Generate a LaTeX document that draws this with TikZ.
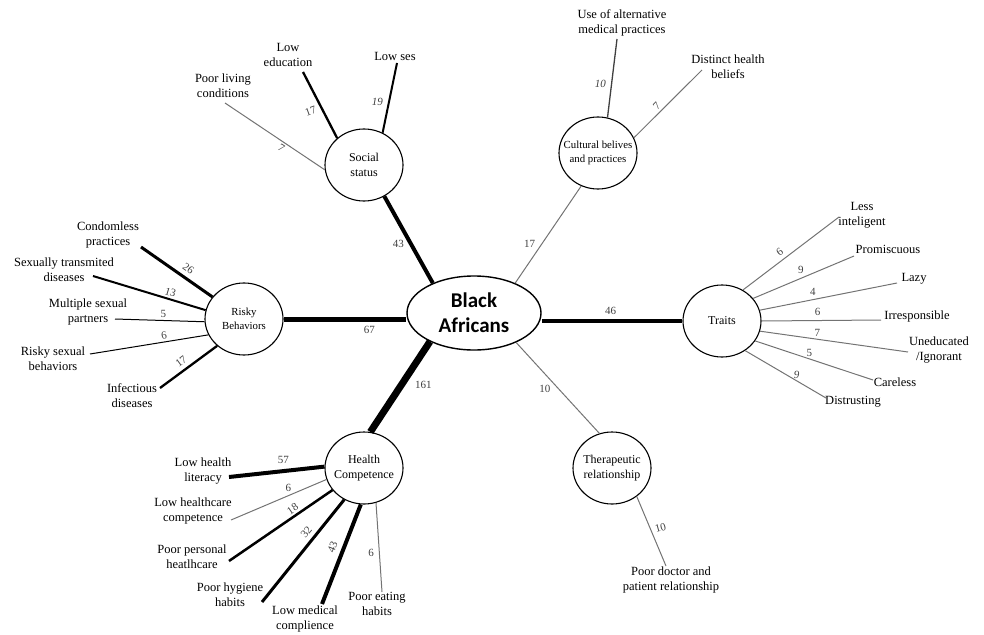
\documentclass[tikz,border=0pt]{standalone}
\usepackage{fontspec}
\setmainfont{Liberation Serif}
\newfontfamily\carlito{Carlito}
\usetikzlibrary{shapes.geometric}
\begin{document}
\begin{tikzpicture}[x=1pt,y=-1pt,
  ba/.style={draw, ellipse, minimum width=134pt, minimum height=74pt, inner sep=0pt, line width=1.4pt, align=center, font=\carlito\bfseries\fontsize{21}{25}\selectfont},
  circ/.style={draw, ellipse, minimum width=78pt, minimum height=72pt, inner sep=-15pt, line width=1.1pt, align=center, font=\fontsize{12}{15}\selectfont},
  circs/.style={circ, font=\fontsize{10.8}{14}\selectfont},
  txt/.style={align=center, inner sep=0pt, font=\fontsize{12.5}{15}\selectfont},
  num/.style={font=\fontsize{11}{12}\selectfont, text=black!75, inner sep=2pt},
  gl/.style={line width=1pt, draw=black!55},
  bl/.style={line width=#1pt, draw=black},
]
\useasboundingbox (0,0) rectangle (984,634);

% central and category nodes
\node[ba] (ba) at (474,313) {Black\\Africans};
\node[circ] (soc) at (364,165) {Social\\status};
\node[circs] (cult) at (598,153) {Cultural belives\\and practices};
\node[circs] (risk) at (244,319) {Risky\\Behaviors};
\node[circ] (trait) at (722,321) {Traits};
\node[circ] (health) at (364,468) {Health\\Competence};
\node[circ] (ther) at (612,468) {Therapeutic\\relationship};

% outer texts
\node[txt] (t1) at (223,86) {Poor living\\conditions};
\node[txt] (t2) at (288,55) {Low\\education};
\node[txt] (t3) at (395,56) {Low ses};
\node[txt] (t4) at (622,23) {Use of alternative\\medical practices};
\node[txt] (t5) at (728,67) {Distinct health\\beliefs};
\node[txt] (t6) at (108,235) {Condomless\\practices};
\node[txt] (t7) at (64,270) {Sexually transmited\\diseases};
\node[txt] (t8) at (88,312) {Multiple sexual\\partners};
\node[txt] (t9) at (53,359) {Risky sexual\\behaviors};
\node[txt] (t10) at (132,396) {Infectious\\diseases};
\node[txt] (t11) at (862,215) {Less\\inteligent};
\node[txt] (t12) at (888,249) {Promiscuous};
\node[txt] (t13) at (914,279) {Lazy};
\node[txt] (t14) at (917,316) {Irresponsible};
\node[txt] (t15) at (939,350) {Uneducated\\/Ignorant};
\node[txt] (t16) at (895,382) {Careless};
\node[txt] (t17) at (853,402) {Distrusting};
\node[txt] (t18) at (203,471) {Low health\\literacy};
\node[txt] (t19) at (193,511) {Low healthcare\\competence};
\node[txt] (t20) at (192,557) {Poor personal\\heatlhcare};
\node[txt] (t21) at (230,595) {Poor hygiene\\habits};
\node[txt] (t22) at (305,619) {Low medical\\complience};
\node[txt] (t23) at (377,604) {Poor eating\\habits};
\node[txt] (t24) at (671,580) {Poor doctor and\\patient relationship};

% outer line ends
\coordinate (e1) at (225,103);
\coordinate (e2) at (303,72);
\coordinate (e3) at (397,63);
\coordinate (e4) at (617,39);
\coordinate (e5) at (702,70);
\coordinate (e6) at (141,247);
\coordinate (e7) at (93,276);
\coordinate (e8) at (115,319);
\coordinate (e9) at (90,354);
\coordinate (e10) at (160,388);
\coordinate (e11) at (839,217);
\coordinate (e12) at (854,256);
\coordinate (e13) at (897,283);
\coordinate (e14) at (881,320);
\coordinate (e15) at (908,352);
\coordinate (e16) at (873,380);
\coordinate (e17) at (826,398);
\coordinate (e18) at (229,477);
\coordinate (e19) at (231,520);
\coordinate (e20) at (229,561);
\coordinate (e21) at (262,602);
\coordinate (e22) at (322,604);
\coordinate (e23) at (382,592);
\coordinate (e24) at (666,566);

% central connectors
\draw[bl=4] (soc.-57) -- (ba.144) node[num,pos=0.545,left=3pt]{43};
\draw[gl] (cult.-117) -- (ba.36) node[num,pos=0.66,above left]{17};
\draw[bl=5] (risk.east) -- (risk.east -| ba.west) node[num,pos=0.7,below=3pt]{67};
\draw[bl=4] (trait.west) -- (trait.west -| ba.east) node[num,pos=0.51,above=2pt]{46};
\draw[bl=7] (health.80) -- (ba.213) node[num,pos=0.525,right=8pt]{161};
\draw[gl] (ther.110) -- (ba.-35) node[num,pos=0.56,below left]{10};

% social status
\draw[gl] (soc.187) -- (e1) node[num,pos=0.4,sloped,below]{7};
\draw[bl=2.3] (soc.135) -- (e2) node[num,pos=0.45,left=3pt,rotate=20]{17};
\draw[bl=2] (soc.60.6) -- (e3) node[num,pos=0.44,left=3pt]{\itshape 19};

% cultural
\draw[line width=1.3pt, draw=black!75] (cult.75.6) -- (e4) node[num,pos=0.425,left=3pt]{\itshape 10};
\draw[gl] (cult.23.4) -- (e5) node[num,pos=0.4,sloped,above]{7};

% risky behaviours
\draw[bl=3] (risk.145.5) -- (e6) node[num,pos=0.41,sloped,above=2pt]{26};
\draw[bl=2] (risk.167) -- (e7) node[num,pos=0.33,sloped,above]{13};
\draw[line width=1pt] (risk.184.3) -- (e8) node[num,pos=0.46,above]{5};
\draw[line width=1pt] (risk.204.7) -- (e9) node[num,pos=0.366,sloped,above]{6};
\draw[bl=2.3] (risk.225) -- (e10) node[num,pos=0.54,sloped,above=2pt]{17};

% traits
\draw[gl] (trait.56.7) -- (e11) node[num,pos=0.433,sloped,above=2pt]{6};
\draw[gl] (trait.36.9) -- (e12) node[num,pos=0.474,above=2pt]{9};
\draw[gl] (trait.16.1) -- (e13) node[num,pos=0.387,above=2pt]{4};
\draw[gl] (trait.0) -- (e14) node[num,pos=0.47,above=2pt]{6};
\draw[gl] (trait.-15.8) -- (e15) node[num,pos=0.388,above]{7};
\draw[gl] (trait.-31) -- (e16) node[num,pos=0.46,above]{5};
\draw[gl] (trait.-52.3) -- (e17) node[num,pos=0.636,above]{\itshape 9};

% health competence
\draw[bl=4] (health.178.6) -- (e18) node[num,pos=0.43,above=3pt]{57};
\draw[gl] (health.197.1) -- (e19) node[num,pos=0.4,above=2pt]{6};
\draw[bl=2.5] (health.215.7) -- (e20) node[num,pos=0.347,sloped,above]{18};
\draw[bl=3] (health.238) -- (e21) node[num,pos=0.374,sloped,above=2pt]{32};
\draw[bl=4] (health.265.4) -- (e22) node[num,pos=0.47,sloped,above=3pt]{43};
\draw[gl] (health.289.9) -- (e23) node[num,pos=0.56,left=3pt]{6};

% therapeutic
\draw[gl] (ther.-49.2) -- (e24) node[num,pos=0.48,right=2pt,rotate=15]{10};
\end{tikzpicture}
\end{document}
